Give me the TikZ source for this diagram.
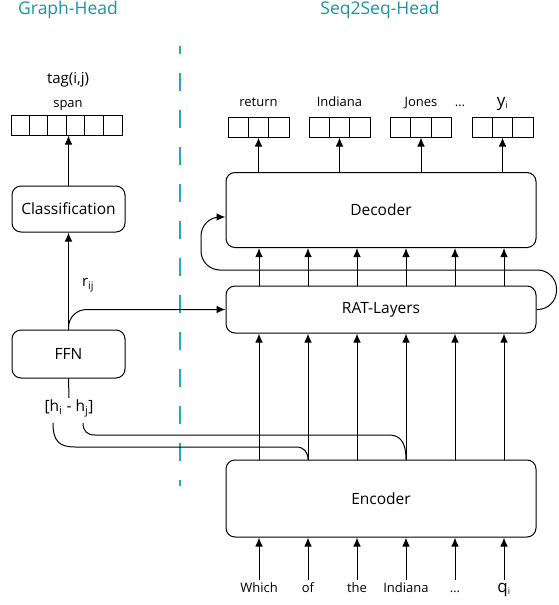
\documentclass[tikz,border=0pt]{standalone}
\usepackage{fontspec}
\setmainfont{Open Sans}
\usetikzlibrary{calc,arrows.meta}
\definecolor{headteal}{RGB}{28,146,162}
\definecolor{splitcyan}{RGB}{30,172,196}

\begin{document}
\begin{tikzpicture}[x=1pt, y=-1pt, line width=1pt, >={Latex[length=9pt,width=7.5pt]},
	block/.style={draw, rounded corners=9pt, font=\fontsize{15.5}{17}\selectfont},
	vecbox/.style={draw, minimum height=20pt, inner sep=0pt},
	word/.style={font=\fontsize{13}{15}\selectfont, text height=10pt, text depth=2pt, inner sep=2pt},
	head/.style={text=headteal, font=\fontsize{17.5}{20}\selectfont}]
	\useasboundingbox (0,0) rectangle (559,605);
	% heads and split
	\node[head] (ghead) at (68,10) {Graph-Head};
	\node[head] (shead) at (380,10) {Seq2Seq-Head};
	\draw[splitcyan, line width=1.1pt, dash pattern=on 18pt off 19pt, dash phase=10pt] (180,46) -- (180,486);
	
	% graph head
	\node[vecbox, minimum width=111pt] (span) at (66.5,125) {};
	\foreach \i in {1,...,5}
		\draw ($(span.south west)+(\i*18.5,0)$) -- ++(0,-20);
	\node[word] (spanlbl) at (68,103) {span};
	\node[font=\fontsize{15}{17}\selectfont] (tag) at (68,80) {tag(i,j)};
	\node[block, minimum width=113pt, minimum height=46pt] (cls) at (68.5,209) {Classification};
	\node[block, minimum width=113pt, minimum height=48pt] (ffn) at (68.5,354) {FFN};
	\node[font=\fontsize{15.5}{17}\selectfont, inner sep=1pt] (hij) at (69,408) {[h\textsubscript{i} - h\textsubscript{j}]};
	\node[font=\fontsize{15}{17}\selectfont] (rij) at (88,285) {r\textsubscript{ij}};
	\draw[->] (cls.north) -- (span.south -| cls.north);
	\draw[->] (ffn.north) -- (cls.south);
	\draw (ffn.south) -- (hij.north);
	
	% seq2seq head
	\node[block, minimum width=310pt, minimum height=75pt] (dec) at (381,210) {Decoder};
	\node[block, minimum width=310pt, minimum height=47pt] (rat) at (381,309.5) {RAT-Layers};
	\node[block, minimum width=310pt, minimum height=77pt] (enc) at (381,498.5) {Encoder};
	\draw[->, rounded corners=18pt] (ffn.north) |- (rat.west);
	\foreach \x in {259,308,357,406,455,504}{
		\draw[->] (enc.north -| \x,0) -- (rat.south -| \x,0);
		\draw[->] (rat.north -| \x,0) -- (dec.south -| \x,0);};
	\foreach \x/\w [count=\i] in {259/Which, 308/of, 357/the, 406/Indiana, 455/{\ldots}, 504/{{\fontsize{17}{18}\selectfont q}\textsubscript{i}}}{
		\node[word] (in\i) at (\x,588) {\w};
		\draw[->] (in\i.north) -- (enc.south -| in\i);};
	\foreach \x/\w [count=\i] in {258.5/return, 339.5/Indiana, 421/Jones, 502.5/{{\fontsize{17}{18}\selectfont y}\textsubscript{i}}}{
		\node[vecbox, minimum width=61pt] (out\i) at (\x,127) {};
		\draw ($(out\i.south)+(-10.2,0)$) -- ++(0,-20);
		\draw ($(out\i.south)+(10.2,0)$) -- ++(0,-20);
		\node[word] (outlbl\i) at (\x,102) {\w};
		\draw[->] (dec.north -| out\i) -- (out\i.south);};
	\node[word] (outdots) at (460,102) {\ldots};
	% recurrence loop
	\draw[->, rounded corners=19pt] (rat.east) -- ++(20,0) |- (201,270) |- ($(dec.west)+(0,7)$);
	% pair features into encoder states
	\coordinate (hi) at (53,423);
	\coordinate (hj) at (83,423);
	\draw (hi) .. controls (53,441) and (59,447) .. (75,447) -- (296,447)
		.. controls (304,447) and (308,452) .. (enc.north -| 308,0);
	\draw (hj) .. controls (83,431) and (87,435) .. (95,435) -- (389,435)
		.. controls (400,435) and (406,442) .. (enc.north -| 406,0);
\end{tikzpicture}
\end{document}
